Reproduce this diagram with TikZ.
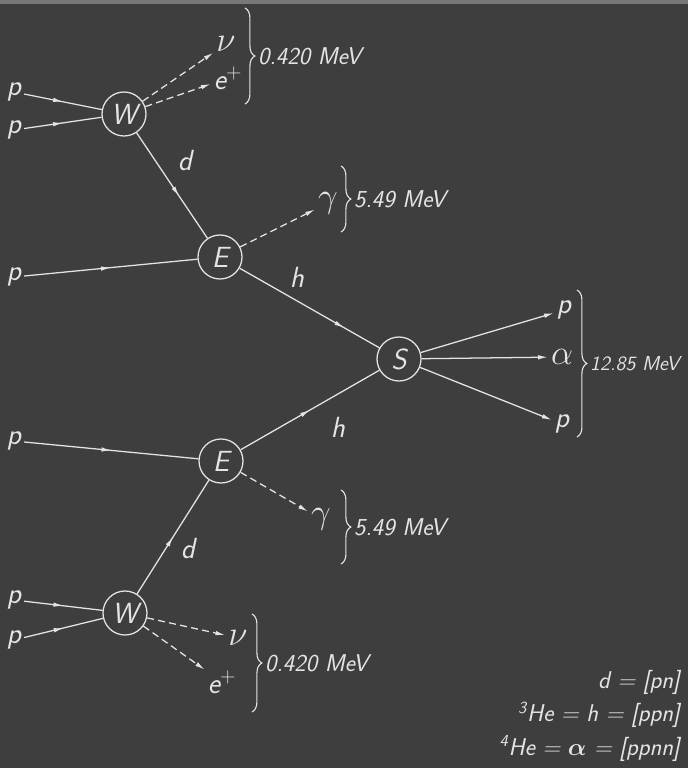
\documentclass[tikz,border=0pt]{standalone}
\usepackage{amsmath,amssymb}
\usepackage{xcolor}
\usepackage{tikz}
\usetikzlibrary{arrows.meta,calc,decorations.markings,decorations.pathreplacing}

\definecolor{board}{RGB}{62,62,62}
\definecolor{chalk}{RGB}{228,228,228}

\tikzset{
  chalkline/.style={draw=chalk, line width=0.9pt},
  vertex/.style={circle, draw=chalk, line width=0.9pt, minimum size=1.1cm, inner sep=0pt, text=chalk, font=\huge\sffamily\itshape},
  lbl/.style={text=chalk, font=\huge\sffamily\itshape, inner sep=2pt},
  glbl/.style={lbl, font=\Huge},
  elbl/.style={text=chalk, font=\LARGE\sffamily\itshape, inner sep=1pt, anchor=west},
  midarrow/.style={postaction={decorate}, decoration={markings, mark=at position #1 with {\arrow{Latex[length=7pt,width=3.2pt]}}}},
  emit/.style={draw=chalk, line width=0.9pt, dash pattern=on 5pt off 3pt, -{Latex[length=7pt,width=3.2pt]}},
  outflow/.style={draw=chalk, line width=0.9pt, -{Latex[length=7pt,width=3.2pt]}},
  energy/.style={draw=chalk, line width=0.8pt, decorate, decoration={brace, amplitude=7pt}},
}

\begin{document}
\begin{tikzpicture}[x=0.025cm, y=-0.025cm]
% Board
\fill[board] (0,0) rectangle (688,768);
\fill[board!70!white] (0,0) rectangle (688,4);
\useasboundingbox (0,0) rectangle (688,768);

% Upper pp chain
\node[vertex] (W1) at (124,114) {W};
\node[lbl] (p1) at (14,92) {p};
\node[lbl] (p2) at (14,130) {p};
\node[glbl] (nu1) at (226,44) {$\nu$};
\node[lbl] (e1) at (228,78) {e$^{+}$};
\node[vertex] (E1) at (220,257) {E};
\node[lbl] (p3) at (14,277) {p};
\node[glbl] (g1) at (328,203) {$\gamma$};
\node[lbl] (d1) at (185,160) {d};
\node[lbl] (h1) at (297,277) {h};

\draw[chalkline, midarrow=0.5] (p1) -- (W1);
\draw[chalkline, midarrow=0.5] (p2) -- (W1);
\draw[emit] (W1) -- (nu1);
\draw[emit] (W1) -- (e1);
\draw[chalkline, midarrow=0.6] (W1) -- (E1);
\draw[chalkline, midarrow=0.5] (p3) -- (E1);
\draw[emit] (E1) -- (g1);

% Fusion of the two h
\node[vertex] (S) at (399,359) {S};
\node[lbl] (q1) at (564,310) {p};
\node[glbl] (al) at (562,357) {$\alpha$};
\node[lbl] (q2) at (562,424) {p};
\draw[chalkline, midarrow=0.75] (E1) -- (S);
\draw[outflow] (S) -- (q1);
\draw[outflow] (S) -- (al);
\draw[outflow] (S) -- (q2);

% Lower pp chain
\node[vertex] (E2) at (221,461) {E};
\node[lbl] (p4) at (14,441) {p};
\node[glbl] (g2) at (321,519) {$\gamma$};
\node[lbl] (h2) at (338,427) {h};
\node[lbl] (d2) at (188,548) {d};
\node[vertex] (W2) at (125,613) {W};
\node[lbl] (p5) at (14,600) {p};
\node[lbl] (p6) at (14,640) {p};
\node[glbl] (nu2) at (238,638) {$\nu$};
\node[lbl] (e2) at (222,682) {e$^{+}$};

\draw[chalkline, midarrow=0.5] (E2) -- (S);
\draw[chalkline, midarrow=0.5] (p4) -- (E2);
\draw[emit] (E2) -- (g2);
\draw[chalkline, midarrow=0.5] (W2) -- (E2);
\draw[chalkline, midarrow=0.5] (p5) -- (W2);
\draw[chalkline, midarrow=0.5] (p6) -- (W2);
\draw[emit] (W2) -- (nu2);
\draw[emit] (W2) -- (e2);

% Energy releases
\draw[energy] (245,8) -- (245,104) node[midway, right=8pt, elbl] (en1) {0.420 MeV};
\draw[energy] (341,166) -- (341,232) node[midway, right=8pt, elbl] (en2) {5.49 MeV};
\draw[energy] (577,290) -- (577,437) node[midway, right=8pt, elbl, font=\Large\sffamily\itshape] (en3) {12.85 MeV};
\draw[energy] (341,490) -- (341,564) node[midway, right=8pt, elbl] (en4) {5.49 MeV};
\draw[energy] (252,614) -- (252,712) node[midway, right=8pt, elbl] (en5) {0.420 MeV};

% Key
\node[text=chalk, font=\LARGE\sffamily\itshape, align=right, anchor=south east, inner sep=0pt] (key) at (680,762)
  {d = [pn]\\[2pt] \textsuperscript{3}He = h = [ppn]\\[2pt] \textsuperscript{4}He = $\boldsymbol{\alpha}$ = [ppnn]};
\end{tikzpicture}
\end{document}
